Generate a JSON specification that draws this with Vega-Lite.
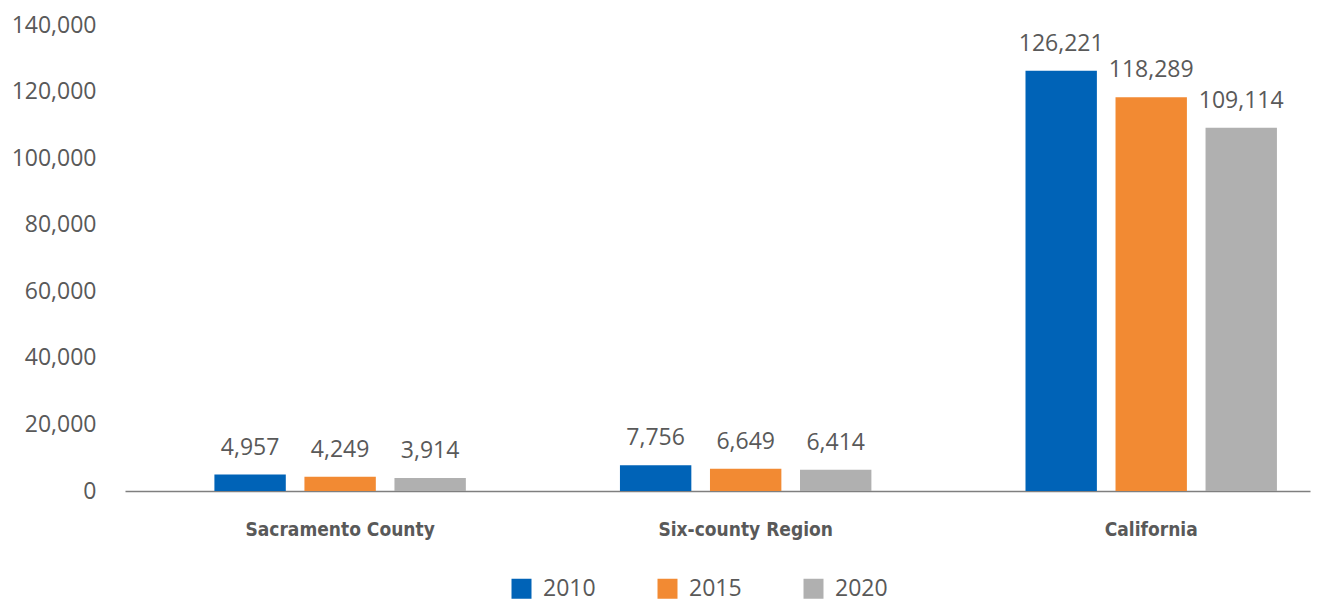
{
  "$schema": "https://vega.github.io/schema/vega-lite/v6.json",
  "autosize": "none",
  "width": 1185,
  "height": 466,
  "padding": {"left": 125, "top": 25, "right": 11, "bottom": 112},
  "background": "white",
  "config": {"view": {"stroke": null}, "font": "Open Sans"},
  "data": {
    "values": [
      {"region": "Sacramento County", "year": "2010", "value": 4957},
      {"region": "Sacramento County", "year": "2015", "value": 4249},
      {"region": "Sacramento County", "year": "2020", "value": 3914},
      {"region": "Six-county Region", "year": "2010", "value": 7756},
      {"region": "Six-county Region", "year": "2015", "value": 6649},
      {"region": "Six-county Region", "year": "2020", "value": 6414},
      {"region": "California", "year": "2010", "value": 126221},
      {"region": "California", "year": "2015", "value": 118289},
      {"region": "California", "year": "2020", "value": 109114}
    ]
  },
  "encoding": {
    "x": {
      "field": "region",
      "type": "nominal",
      "sort": null,
      "title": null,
      "scale": {"paddingInner": 0.38, "paddingOuter": 0.151, "align": 0.73},
      "axis": {
        "labelAngle": 0,
        "labelFont": "DejaVu Sans Condensed",
        "labelFontWeight": "bold",
        "labelFontSize": 19,
        "labelColor": "#595959",
        "labelPadding": 29,
        "labelLimit": 0,
        "ticks": false,
        "domainColor": "#7f7f7f",
        "domainWidth": 1.5,
        "grid": false
      }
    },
    "xOffset": {
      "field": "year",
      "type": "nominal",
      "scale": {"paddingInner": 0.207, "paddingOuter": 0}
    },
    "y": {
      "field": "value",
      "type": "quantitative",
      "title": null,
      "scale": {"domain": [0, 140000], "nice": false},
      "axis": {
        "values": [0, 20000, 40000, 60000, 80000, 100000, 120000, 140000],
        "format": ",d",
        "labelFont": "Open Sans",
        "labelFontSize": 23,
        "labelColor": "#595959",
        "labelPadding": 29,
        "ticks": false,
        "domain": false,
        "grid": false
      }
    }
  },
  "layer": [
    {
      "mark": {"type": "bar"},
      "encoding": {
        "color": {
          "field": "year",
          "type": "nominal",
          "title": null,
          "scale": {"domain": ["2010", "2015", "2020"], "range": ["#0063B7", "#F28A33", "#B0B0B0"]},
          "legend": {
            "orient": "none",
            "direction": "horizontal",
            "legendX": 385,
            "legendY": 552,
            "symbolType": "square",
            "symbolSize": 400,
            "symbolStrokeWidth": 0,
            "labelFont": "Open Sans",
            "labelFontSize": 23,
            "labelColor": "#595959",
            "labelOffset": 10,
            "columnPadding": 60
          }
        }
      }
    },
    {
      "mark": {"type": "text", "baseline": "alphabetic", "dy": -20, "font": "Open Sans", "fontSize": 23, "color": "#595959"},
      "encoding": {
        "text": {"field": "value", "type": "quantitative", "format": ",d"}
      }
    }
  ]
}
